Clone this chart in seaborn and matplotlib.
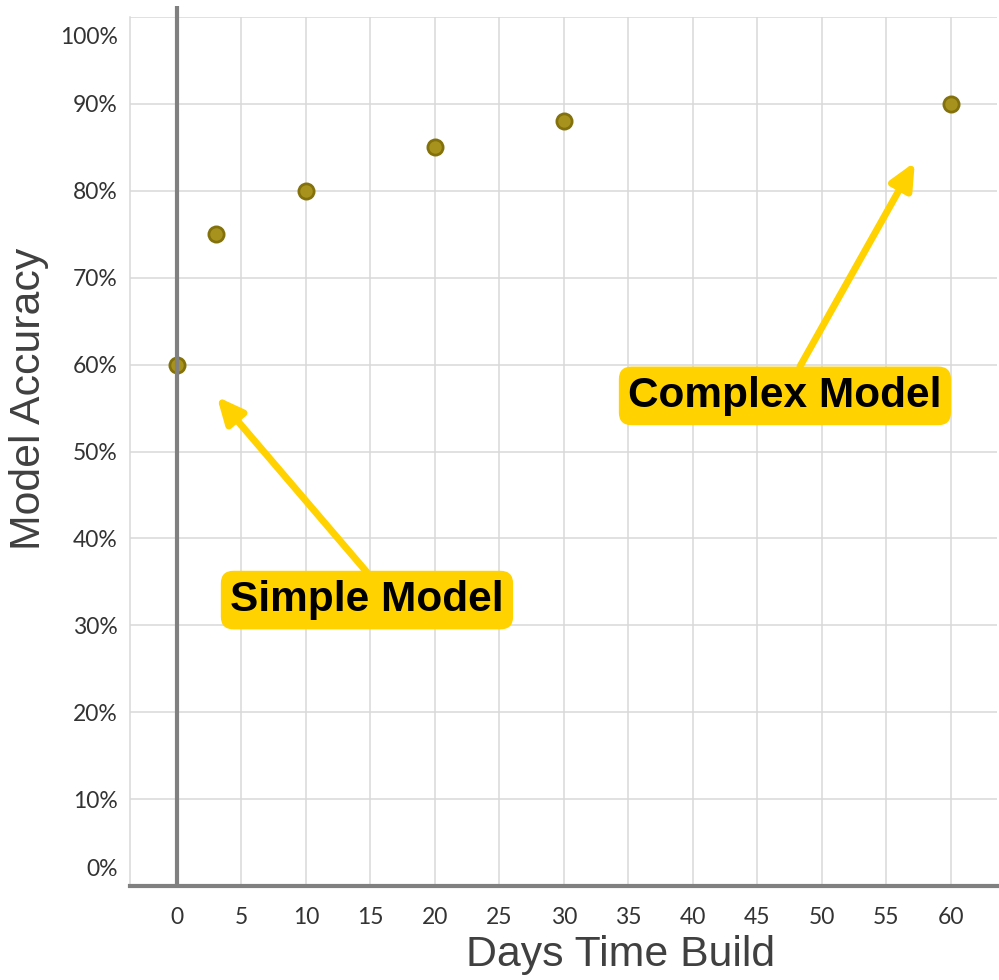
import matplotlib
matplotlib.use("Agg")
import matplotlib.pyplot as plt
import matplotlib.transforms as mtransforms
import seaborn as sns
import pandas as pd

days = [0, 3, 10, 20, 30, 60]
accuracy = [60, 75, 80, 85, 88, 90]
x_ticks = list(range(0, 65, 5))
y_ticks = list(range(0, 110, 10))
y_tick_labels = [f"{v}%" for v in y_ticks]

df = pd.DataFrame({"days": days, "accuracy": accuracy})

sns.set_theme(style="whitegrid")
plt.rcParams['font.family'] = ['Lato', 'DejaVu Sans']

fig = plt.figure(figsize=(9.99, 9.8), dpi=100)
ax = fig.add_axes([130/999, 1-886/980, (997-130)/999, (886-17)/980])

grid_c = '#d9d9d9'
axis_c = '#808080'

sns.scatterplot(data=df, x="days", y="accuracy", ax=ax, s=120,
                color='#a8921e', edgecolor='#83720c', linewidth=2, zorder=3)

ax.set_xlim(-3.64, 63.57)
ax.set_ylim(0, 100)
ax.set_xticks(x_ticks)
ax.set_yticks(y_ticks)
ax.set_yticklabels(y_tick_labels)
ax.grid(True, color=grid_c, linewidth=1.1)
ax.set_axisbelow(True)

for s in ['top', 'right']:
    ax.spines[s].set_visible(False)
ax.spines['left'].set_color(grid_c)
ax.spines['left'].set_linewidth(1.1)
ax.spines['bottom'].set_color(axis_c)
ax.spines['bottom'].set_linewidth(3)
ax.spines['bottom'].set_zorder(4)

# vertical zero axis line
ax.plot([0, 0], [0, 101.3], color=axis_c, lw=3, zorder=4, clip_on=False,
        solid_capstyle='butt')

ax.tick_params(axis='y', length=5, color=grid_c, width=1.1, pad=4,
               labelsize=16.5, labelcolor='#333333')
ax.tick_params(axis='x', length=3, color=grid_c, width=1.1, pad=12,
               labelsize=16.5, labelcolor='#333333')

# nudge end labels inward as in the reference
ylabels = ax.get_yticklabels()
ylabels[0].set_transform(ylabels[0].get_transform() +
                         mtransforms.ScaledTranslation(0, 18/100, fig.dpi_scale_trans))
ylabels[-1].set_transform(ylabels[-1].get_transform() +
                          mtransforms.ScaledTranslation(0, -18/100, fig.dpi_scale_trans))

ax.set_xlabel("Days Time Build", fontsize=30.8, color='#404040',
              family=['Liberation Sans', 'DejaVu Sans'])
ax.set_ylabel("Model Accuracy", fontsize=30.8, color='#404040',
              family=['Liberation Sans', 'DejaVu Sans'])
ax.xaxis.set_label_coords(0.566, -0.056)
ax.yaxis.set_label_coords(-0.094, 0.560)

yellow = '#FFD200'
arrow_kw = dict(arrowstyle='-|>,head_width=0.6,head_length=1.3', color=yellow,
                lw=5, shrinkA=0, shrinkB=0)

ax.annotate('', xy=(3.10, 56.3), xytext=(14.73, 36.1), arrowprops=arrow_kw, zorder=5)
ax.annotate('', xy=(57.2, 83.3), xytext=(48.3, 59.8), arrowprops=arrow_kw, zorder=5)

box = dict(boxstyle='round,pad=0.22,rounding_size=0.3', fc=yellow, ec='none')
ax.text(14.73, 32.9, "Simple Model", fontsize=30.5, fontweight='bold', color='black',
        ha='center', va='center', bbox=box, zorder=6,
        family=['Liberation Sans', 'DejaVu Sans'])
ax.text(47.13, 56.4, "Complex Model", fontsize=30.5, fontweight='bold', color='black',
        ha='center', va='center', bbox=box, zorder=6,
        family=['Liberation Sans', 'DejaVu Sans'])

fig.savefig("out.png", dpi=100)
